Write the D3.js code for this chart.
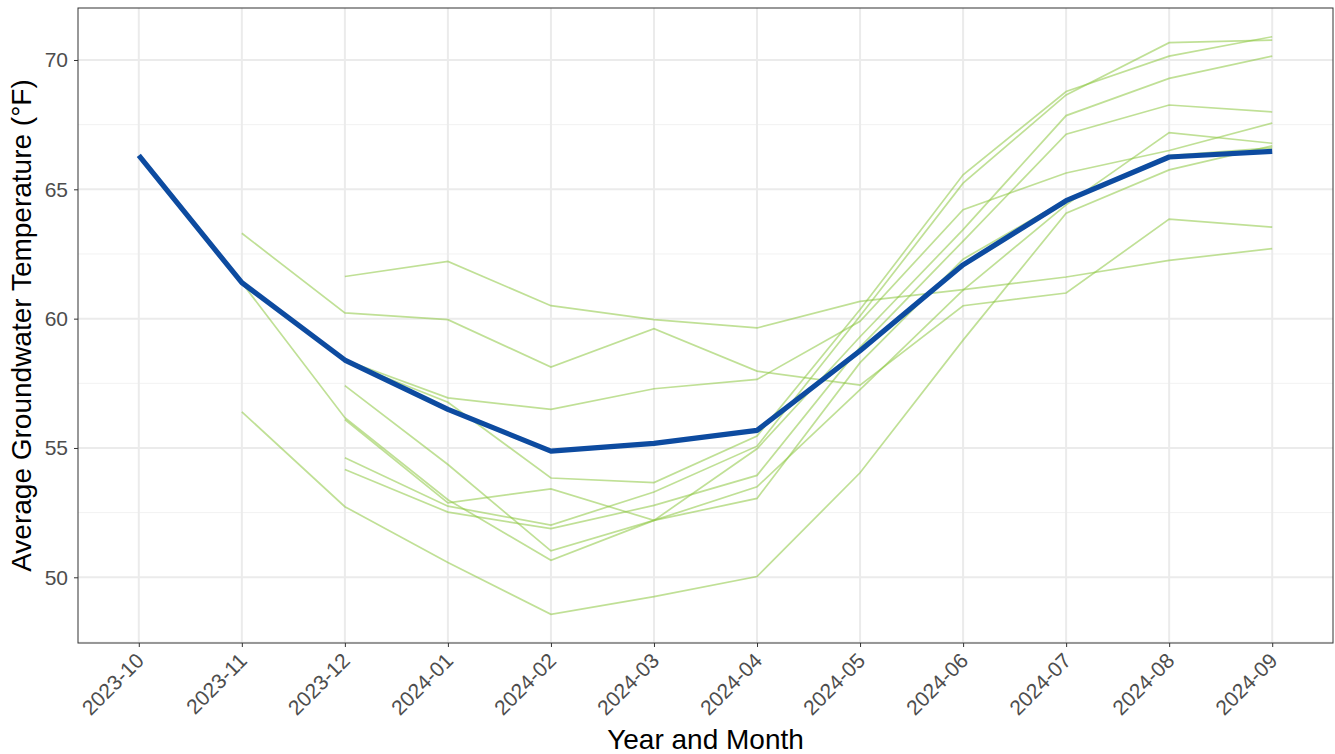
<!DOCTYPE html>
<html>
<head>
<meta charset="utf-8">
<script src="https://cdn.jsdelivr.net/npm/d3@7"></script>
<style>
  html, body { margin: 0; padding: 0; background: #fff; }
  svg { display: block; font-family: "Liberation Sans", Arial, sans-serif; }
</style>
</head>
<body>
<svg id="chart" width="1335" height="754"></svg>
<script>
// Months on the x axis
const months = ["2023-10","2023-11","2023-12","2024-01","2024-02","2024-03",
                "2024-04","2024-05","2024-06","2024-07","2024-08","2024-09"];

// Monthly mean across all wells (°F)
const meanTemp = [66.31, 61.39, 58.40, 56.49, 54.88, 55.18, 55.68, 58.76, 62.08, 64.56, 66.25, 66.47];

// Individual wells (°F); null = no reading that month
const well01 = [null, 63.30, 60.22, 59.96, 58.13, 59.61, 57.97, 57.43, 60.50, 60.99, 63.85, 63.54];
const well02 = [null, 61.39, 56.17, 53.00, 50.66, 52.20, 54.97, 59.30, 63.44, 67.85, 69.29, 70.15];
const well03 = [null, 56.40, 52.73, 50.57, 48.57, 49.25, 50.03, 54.04, 59.17, 64.08, 65.75, 66.68];
const well04 = [null, null, 61.63, 62.21, 60.50, 59.96, 59.64, 60.67, 61.12, 61.61, 62.25, 62.71];
const well05 = [null, null, 58.40, 56.94, 56.49, 57.29, 57.65, 59.90, 64.21, 65.63, 66.50, 67.56];
const well06 = [null, null, 58.35, 56.77, 53.84, 53.66, 55.46, 60.35, 65.56, 68.78, 70.15, 70.90];
const well07 = [null, null, 57.41, 54.36, 51.02, 52.20, 53.05, 58.30, 62.30, 64.60, 66.30, 66.60];
const well08 = [null, null, 56.10, 52.88, 53.42, 52.20, 53.50, 57.26, 61.10, 64.40, 67.19, 66.78];
const well09 = [null, null, 54.62, 52.75, 52.02, 53.30, 55.07, 60.10, 65.24, 68.65, 70.67, 70.77];
const well10 = [null, null, 54.17, 52.52, 51.88, 52.78, 53.94, 58.90, 63.00, 67.13, 68.26, 67.99];
const wells = [well01, well02, well03, well04, well05, well06, well07, well08, well09, well10];

const yMajor = [50, 55, 60, 65, 70];
const yMinor = [47.5, 52.5, 57.5, 62.5, 67.5];

const panel = { left: 78, right: 1333, top: 8, bottom: 643 };
const svg = d3.select("#chart");

const x = d3.scalePoint().domain(months).range([panel.left, panel.right]).padding(0.59);
const y = d3.scaleLinear().domain([47.46, 72.01]).range([panel.bottom, panel.top]);

// Panel grid
const grid = svg.append("g");
grid.selectAll("line.minor").data(yMinor.filter(v => v > y.domain()[0])).join("line")
  .attr("x1", panel.left).attr("x2", panel.right)
  .attr("y1", d => y(d)).attr("y2", d => y(d))
  .attr("stroke", "#F2F2F2").attr("stroke-width", 1);
grid.selectAll("line.ymaj").data(yMajor).join("line")
  .attr("x1", panel.left).attr("x2", panel.right)
  .attr("y1", d => y(d)).attr("y2", d => y(d))
  .attr("stroke", "#EBEBEB").attr("stroke-width", 2);
grid.selectAll("line.xmaj").data(months).join("line")
  .attr("x1", d => x(d)).attr("x2", d => x(d))
  .attr("y1", panel.top).attr("y2", panel.bottom)
  .attr("stroke", "#EBEBEB").attr("stroke-width", 2);

// Well lines
const line = d3.line()
  .defined(d => d.v !== null)
  .x(d => x(d.m)).y(d => y(d.v));

svg.append("g").selectAll("path").data(wells).join("path")
  .attr("d", w => line(w.map((v, i) => ({ m: months[i], v }))))
  .attr("fill", "none")
  .attr("stroke", "#8CC63F")
  .attr("stroke-opacity", 0.55)
  .attr("stroke-width", 1.7);

// Mean line
svg.append("path")
  .attr("d", line(meanTemp.map((v, i) => ({ m: months[i], v }))))
  .attr("fill", "none")
  .attr("stroke", "#0D4BA0")
  .attr("stroke-width", 5.2)
  .attr("stroke-linejoin", "round");

// Panel border
svg.append("rect")
  .attr("x", panel.left).attr("y", panel.top)
  .attr("width", panel.right - panel.left).attr("height", panel.bottom - panel.top)
  .attr("fill", "none").attr("stroke", "#333333").attr("stroke-width", 1);

// Y axis
const yAxis = svg.append("g").attr("transform", `translate(${panel.left},0)`)
  .call(d3.axisLeft(y).tickValues(yMajor).tickSize(4).tickPadding(6).tickFormat(d3.format("d")));
yAxis.select(".domain").remove();
yAxis.selectAll(".tick line").attr("stroke", "#333333");
yAxis.selectAll(".tick text").attr("fill", "#4D4D4D").attr("font-size", 21);

// X axis
const xAxis = svg.append("g").attr("transform", `translate(0,${panel.bottom})`)
  .call(d3.axisBottom(x).tickSize(4).tickPadding(3));
xAxis.select(".domain").remove();
xAxis.selectAll(".tick line").attr("stroke", "#333333");
xAxis.selectAll(".tick text")
  .attr("fill", "#4D4D4D").attr("font-size", 21)
  .attr("text-anchor", "end")
  .attr("transform", "translate(6,19) rotate(-45)")
  .attr("dy", 0).attr("y", 0).attr("x", 0);

// Axis titles
svg.append("text")
  .attr("x", (panel.left + panel.right) / 2).attr("y", 749)
  .attr("text-anchor", "middle").attr("font-size", 28).attr("fill", "#000")
  .text("Year and Month");

svg.append("text")
  .attr("transform", `translate(31,${(panel.top + panel.bottom) / 2}) rotate(-90)`)
  .attr("text-anchor", "middle").attr("font-size", 28).attr("fill", "#000")
  .text("Average Groundwater Temperature (°F)");
</script>
</body>
</html>
